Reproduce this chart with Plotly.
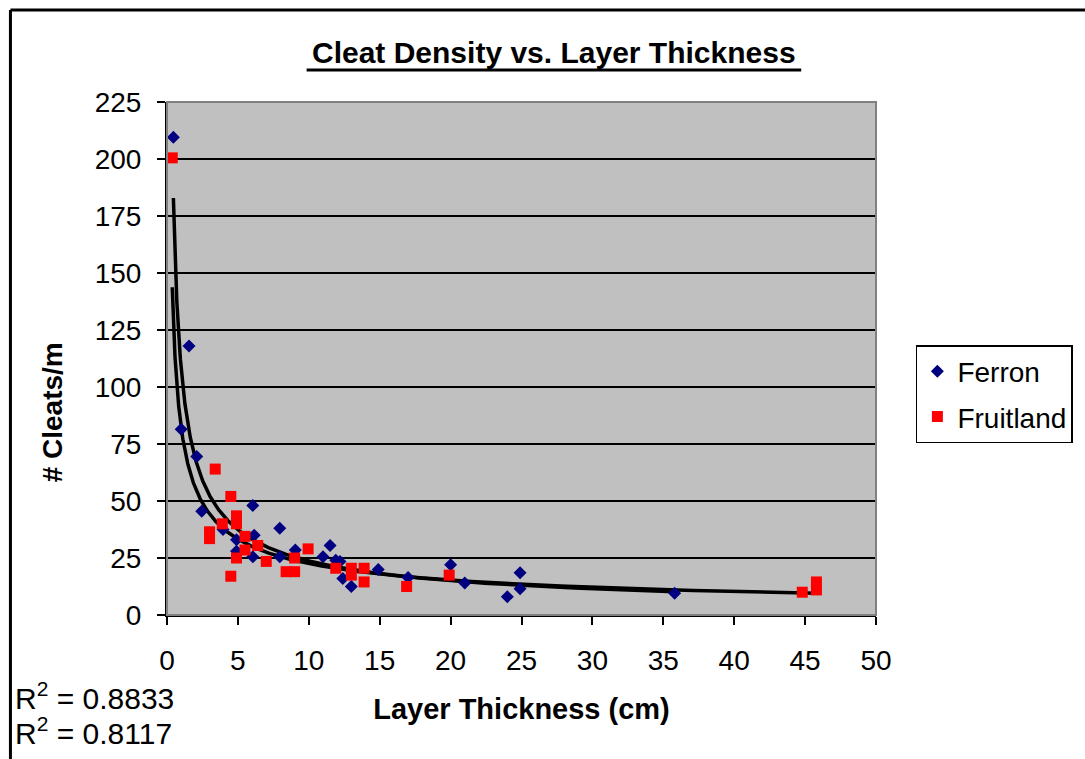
import numpy as np
import plotly.graph_objects as go

# ---- data ----
ferron_x = [0.45, 1.0, 1.55, 2.1, 2.45, 3.95, 4.9, 4.9, 6.05, 6.15, 6.05, 7.95, 7.95, 9.05,
            11.0, 11.5, 11.9, 12.2, 12.4, 13.0, 14.9, 17.0, 20.0, 21.0, 24.0, 24.9, 24.9, 35.8]
ferron_y = [209.5, 81.5, 118, 69.5, 45.5, 37.5, 33, 28, 48, 35, 25.5, 38, 25.5, 28.5,
            25.5, 30.5, 24, 23.5, 16, 12.5, 20, 16.5, 22, 14, 8, 18.5, 11.5, 9.5]

fruit_x = [0.37, 3.4, 4.5, 4.9, 4.9, 3.9, 3.0, 3.0, 5.5, 6.4, 5.5, 4.9, 7.0, 4.5,
           8.4, 9.0, 9.0, 9.95, 11.9, 13.0, 13.0, 13.9, 13.9, 16.9, 19.9, 44.8, 45.8, 45.8]
fruit_y = [200.5, 64, 52, 43.5, 40, 40, 36.5, 33.5, 34.5, 30.5, 28.5, 25, 23.5, 17,
           19, 19, 25, 29, 20.5, 20.5, 17.5, 20.5, 14.5, 12.5, 17.5, 10, 14.5, 11]

r2_labels = ["R<sup>2</sup> = 0.8833", "R<sup>2</sup> = 0.8117"]
x_ticks = list(range(0, 51, 5))
y_ticks = list(range(0, 226, 25))

FONT = "Liberation Sans, Arial, sans-serif"

def power_fit(xs, ys):
    xs = np.asarray(xs, float)
    ys = np.asarray(ys, float)
    b, loga = np.polyfit(np.log(xs), np.log(ys), 1)
    xx = np.geomspace(xs.min(), xs.max(), 300)
    return xx, np.exp(loga) * xx ** b

fig = go.Figure()

fx, fy = power_fit(ferron_x, ferron_y)
gx, gy = power_fit(fruit_x, fruit_y)
for xx, yy in [(fx, fy), (gx, gy)]:
    fig.add_trace(go.Scatter(x=xx, y=yy, mode="lines", line=dict(color="black", width=3.5),
                             showlegend=False, hoverinfo="skip"))

fig.add_trace(go.Scatter(x=ferron_x, y=ferron_y, mode="markers", name="Ferron",
                         legendgroup="a",
                         marker=dict(symbol="diamond", size=10, color="#000080")))
fig.add_trace(go.Scatter(x=fruit_x, y=fruit_y, mode="markers", name="Fruitland",
                         legendgroup="b",
                         marker=dict(symbol="square", size=11, color="#FF0000")))

L, R, T, B = 167, 207, 102, 144
W, H = 1085, 759
pw, ph = W - L - R, H - T - B

def px(xp):
    return (xp - L) / pw

def py(yp):
    return (H - B - yp) / ph

shapes = [
    # plot area grey border
    dict(type="rect", xref="paper", yref="paper", x0=0, x1=1, y0=0, y1=1,
         line=dict(color="#808080", width=2), layer="above"),
    # chart outer border (left and top)
    dict(type="line", xref="paper", yref="paper", x0=px(10), x1=px(10), y0=py(10), y1=py(780),
         line=dict(color="black", width=3)),
    dict(type="line", xref="paper", yref="paper", x0=px(10), x1=px(1100), y0=py(10), y1=py(10),
         line=dict(color="black", width=3)),
    # title underline
    dict(type="line", xref="paper", yref="paper", x0=px(307), x1=px(803), y0=py(70), y1=py(70),
         line=dict(color="black", width=3)),
]

annotations = [
    dict(text="<b>Cleat Density vs. Layer Thickness</b>", xref="paper", yref="paper",
         x=px(555), y=py(53), showarrow=False, font=dict(size=30, family=FONT, color="black"),
         xanchor="center", yanchor="middle"),
    dict(text="<b># Cleats/m</b>", xref="paper", yref="paper", x=px(52), y=py(412),
         showarrow=False, textangle=-90, font=dict(size=28, family=FONT, color="black"),
         xanchor="center", yanchor="middle"),
    dict(text=r2_labels[0], xref="paper", yref="paper", x=px(13), y=py(696), showarrow=False,
         font=dict(size=30, family=FONT, color="black"), xanchor="left", yanchor="middle"),
    dict(text=r2_labels[1], xref="paper", yref="paper", x=px(13), y=py(731), showarrow=False,
         font=dict(size=30, family=FONT, color="black"), xanchor="left", yanchor="middle"),
]

fig.update_layout(
    width=W, height=H,
    margin=dict(l=L, r=R, t=T, b=B, pad=0),
    paper_bgcolor="white", plot_bgcolor="#C0C0C0",
    font=dict(family=FONT, color="black"),
    shapes=shapes, annotations=annotations,
    legend=dict(x=px(918), y=py(345), xanchor="left", yanchor="top",
                bordercolor="black", borderwidth=1.5, bgcolor="white",
                font=dict(size=28, family=FONT, color="black"),
                traceorder="grouped", tracegroupgap=6),
    showlegend=True,
)

fig.update_xaxes(range=[0, 50], tickvals=x_ticks, ticks="outside", ticklen=8, tickwidth=2,
                 tickcolor="black", showline=True, linecolor="black", linewidth=2,
                 showgrid=False, zeroline=False, tickfont=dict(size=28),
                 ticklabelstandoff=11,
                 title=dict(text="<b>Layer Thickness (cm)</b>", font=dict(size=29), standoff=24))
fig.update_yaxes(range=[0, 225], tickvals=y_ticks, ticks="outside", ticklen=8, tickwidth=2,
                 tickcolor="black", showline=True, linecolor="black", linewidth=2,
                 showgrid=True, gridcolor="black", gridwidth=2, zeroline=False,
                 tickfont=dict(size=28), ticklabelstandoff=10)

fig.write_html("out.html")
